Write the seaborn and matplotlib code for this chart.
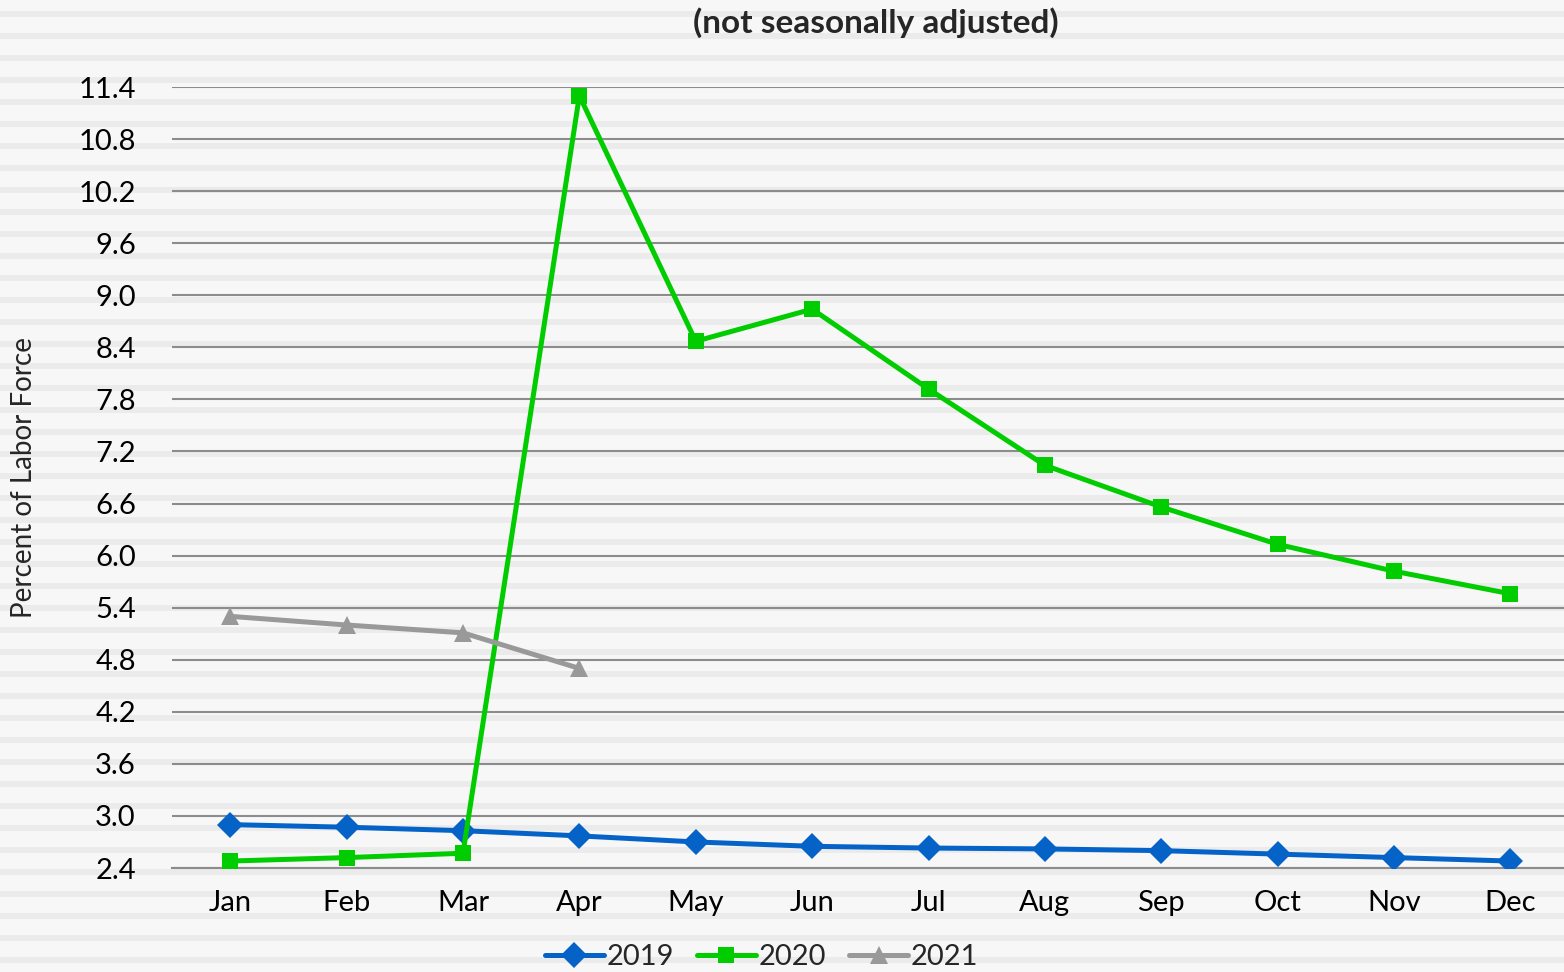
import pandas as pd
import seaborn as sns
import matplotlib.pyplot as plt
from matplotlib.patches import Rectangle

months = ["Jan", "Feb", "Mar", "Apr", "May", "Jun",
          "Jul", "Aug", "Sep", "Oct", "Nov", "Dec"]
rate_2019 = [2.9, 2.87, 2.83, 2.77, 2.70, 2.65, 2.63, 2.62, 2.60, 2.56, 2.52, 2.48]
rate_2020 = [2.48, 2.52, 2.57, 11.3, 8.47, 8.84, 7.92, 7.04, 6.56, 6.13, 5.82, 5.56]
rate_2021 = [5.30, 5.20, 5.11, 4.70]
y_ticks = [2.4, 3.0, 3.6, 4.2, 4.8, 5.4, 6.0, 6.6, 7.2, 7.8, 8.4, 9.0, 9.6, 10.2, 10.8, 11.4]

sns.set_theme(style="white")
plt.rcParams["font.family"] = ["Lato", "DejaVu Sans"]

fig = plt.figure(figsize=(15.64, 9.72), dpi=100, facecolor="#f7f7f7")

# striped background
H = 972
for k in range(45):
    top = 11 + 22 * k
    fig.add_artist(Rectangle((0, 1 - (top + 6) / H), 1, 6 / H,
                             transform=fig.transFigure, color="#ebebeb",
                             zorder=-10, lw=0))

ax = fig.add_axes([172 / 1564, 1 - 868 / 972, 1.003 - 172 / 1564, (868 - 87) / 972])
ax.set_facecolor("none")

series = [
    ("2019", rate_2019, "#0563c8", "D", 13),
    ("2020", rate_2020, "#00cc00", "s", 11),
    ("2021", rate_2021, "#999999", "^", 13),
]
for name, vals, color, marker, ms in series:
    df = pd.DataFrame({"month": months[:len(vals)], "rate": vals})
    sns.lineplot(data=df, x="month", y="rate", ax=ax, color=color, lw=3.6,
                 marker=marker, markersize=ms, markeredgewidth=0,
                 label=name, sort=False, zorder=3)

ax.set_xlim(-0.5, 11.5)
ax.set_ylim(2.4, 11.4)
ax.set_yticks(y_ticks)
ax.set_yticklabels([f"{v:.1f}" for v in y_ticks])
ax.grid(axis="y", color="#8c8c8c", lw=1.5)
ax.set_axisbelow(True)

ax.set_xticks(range(12))
ax.set_xticklabels(months)
ax.set_xticks([i - 0.5 for i in range(13)], minor=True)
ax.tick_params(axis="x", which="major", length=0, pad=16, labelsize=21, colors="black")
ax.tick_params(axis="x", which="minor", length=9, width=1.5, color="#8c8c8c", direction="out")
ax.tick_params(axis="y", length=0, pad=26, labelsize=21, colors="black")

for s in ["left", "right", "top"]:
    ax.spines[s].set_visible(False)
ax.spines["bottom"].set_color("#8c8c8c")
ax.spines["bottom"].set_linewidth(1.5)

ax.set_xlabel("")
ax.set_ylabel("Percent of Labor Force", fontsize=20)
ax.yaxis.set_label_coords(-0.097, 0.5)

fig.text(0.56, 0.977, "(not seasonally adjusted)", ha="center", va="center",
         fontsize=24, fontweight="bold", family=["Lato", "DejaVu Sans"])

ax.legend(loc="center", bbox_to_anchor=(0.487, 0.015), bbox_transform=fig.transFigure,
          ncol=3, frameon=False, fontsize=21, handlelength=2.0, handletextpad=0.1,
          columnspacing=0.8, borderaxespad=0)

fig.savefig("out.png", dpi=100, facecolor=fig.get_facecolor())
